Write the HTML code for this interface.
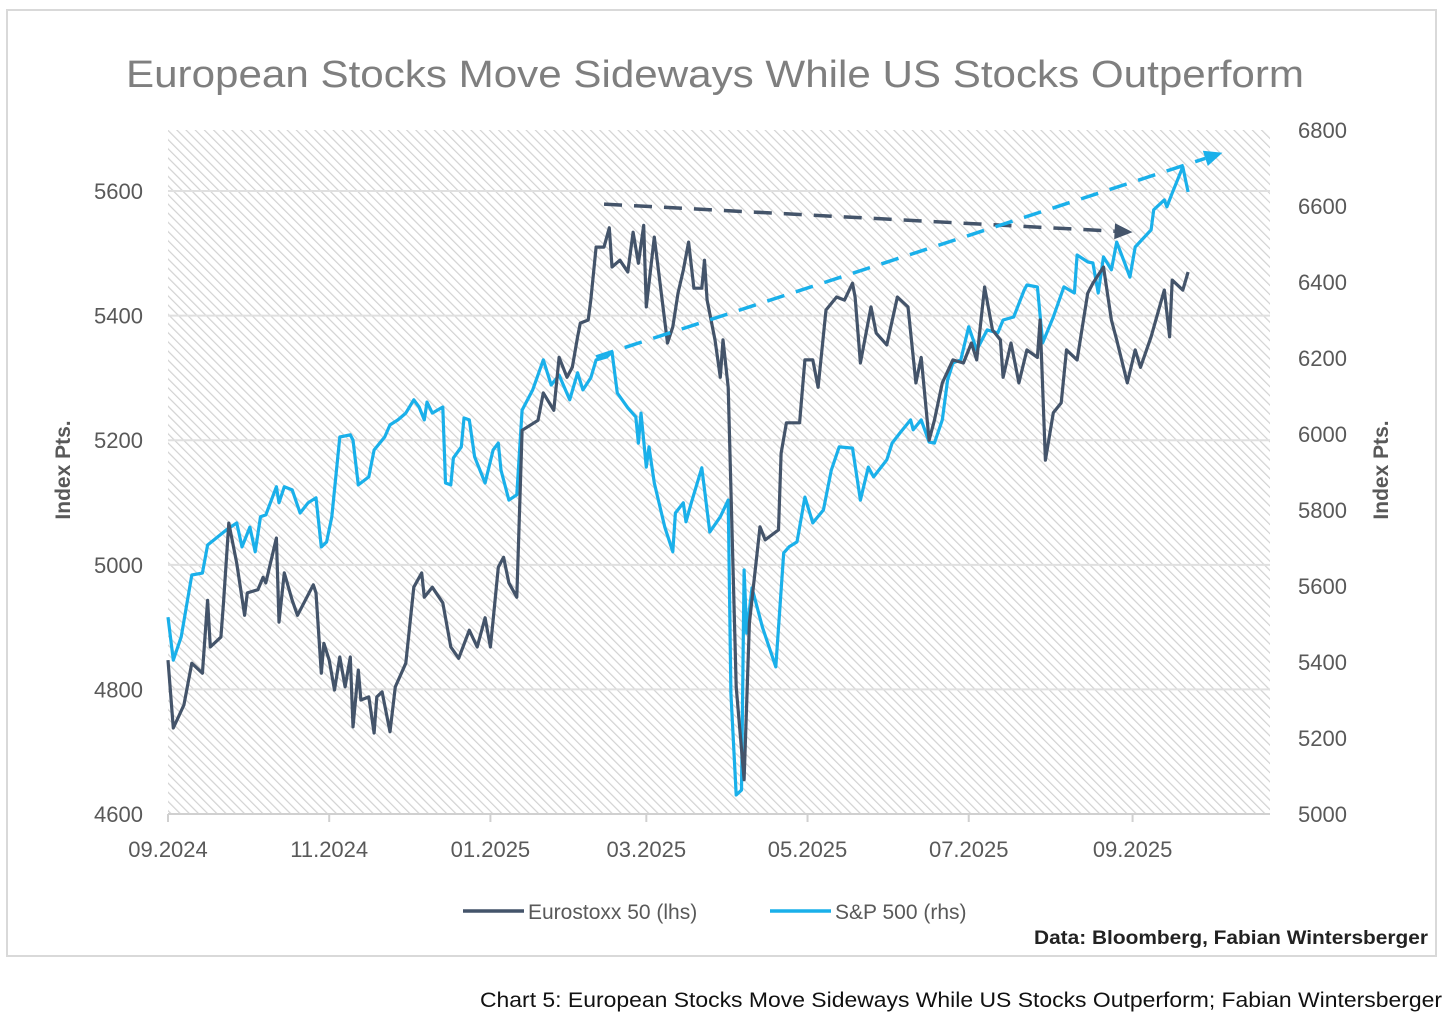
<!DOCTYPE html>
<html><head><meta charset="utf-8"><style>
html,body{margin:0;padding:0;background:#fff;}
svg{display:block;font-family:"Liberation Sans",sans-serif;}
</style></head><body>
<svg id="chart" width="1456" height="1022" viewBox="0 0 1456 1022" xmlns="http://www.w3.org/2000/svg">
<defs>
<pattern id="hatch" patternUnits="userSpaceOnUse" width="6.5" height="6.5" patternTransform="rotate(-45)">
<rect width="6.5" height="6.5" fill="#ffffff"/>
<line x1="0" y1="0" x2="0" y2="6.5" stroke="#d2d2d2" stroke-width="2.4"/>
</pattern>
</defs>
<rect x="7" y="10" width="1429" height="946" fill="#fff" stroke="#d9d9d9" stroke-width="2"/>
<text x="715" y="87" text-anchor="middle" font-size="38" fill="#7f7f7f" textLength="1178" lengthAdjust="spacingAndGlyphs">European Stocks Move Sideways While US Stocks Outperform</text>
<rect x="168" y="130" width="1102" height="684" fill="url(#hatch)"/>
<g id="grid"></g>
<g id="axes"></g>
<g id="series"></g>
<g id="annot"></g>
<text transform="translate(70,470) rotate(-90)" text-anchor="middle" font-size="21" font-weight="bold" fill="#595959">Index Pts.</text>
<text transform="translate(1388,470) rotate(-90)" text-anchor="middle" font-size="21" font-weight="bold" fill="#595959">Index Pts.</text>
<g>
<line x1="463" y1="911" x2="524" y2="911" stroke="#44546a" stroke-width="3.5"/>
<text x="528" y="919" font-size="21" fill="#595959">Eurostoxx 50 (lhs)</text>
<line x1="770" y1="911" x2="831" y2="911" stroke="#1ab0ea" stroke-width="3.5"/>
<text x="835" y="919" font-size="21" fill="#595959">S&amp;P 500 (rhs)</text>
</g>
<text x="1428" y="944" text-anchor="end" font-size="19" fill="#222" font-weight="bold" textLength="394" lengthAdjust="spacingAndGlyphs">Data: Bloomberg, Fabian Wintersberger</text>
<text x="1442" y="1007" text-anchor="end" font-size="21" fill="#111" textLength="962" lengthAdjust="spacingAndGlyphs">Chart 5: European Stocks Move Sideways While US Stocks Outperform; Fabian Wintersberger</text>
</svg>
<script>
const euroDays=[0,2,6,9,13,15,16,20,21,23,26,29,30,34,36,37,41,42,44,47,49,55,56,58,59,61,63,65,67,69,70,72,73,76,78,79,81,84,86,90,93,96,97,100,104,107,110,114,117,120,122,123,125,127,129,132,134,140,142,146,148,151,153,155,156,159,160,162,165,167,168,171,174,176,178,180,181,184,189,191,193,195,197,199,202,203,204,207,209,210,212,215,218,220,224,226,231,232,234,239,241,244,246,249,253,256,259,260,262,266,268,272,276,280,283,285,288,290,293,297,301,304,306,309,312,315,316,319,322,325,329,330,332,335,338,340,344,348,350,354,357,359,363,366,368,372,377,379,380,384,386];
const euroValues=[4847,4738,4775,4842,4826,4943,4868,4884,4939,5067,5003,4919,4955,4960,4980,4971,5043,4908,4987,4943,4919,4968,4955,4826,4874,4847,4799,4852,4804,4852,4740,4831,4783,4788,4730,4788,4796,4732,4804,4842,4964,4987,4948,4964,4939,4868,4850,4895,4868,4915,4868,4911,4996,5012,4971,4948,5216,5232,5276,5248,5333,5301,5317,5366,5388,5393,5425,5510,5510,5541,5478,5489,5470,5534,5484,5545,5414,5526,5356,5382,5436,5473,5518,5444,5444,5489,5425,5361,5301,5361,5285,4804,4655,4907,5061,5040,5056,5179,5228,5228,5329,5329,5285,5409,5430,5425,5452,5430,5324,5414,5372,5353,5430,5414,5292,5333,5200,5232,5292,5329,5324,5356,5329,5446,5377,5361,5301,5356,5292,5345,5333,5393,5168,5244,5260,5345,5329,5436,5452,5478,5393,5361,5292,5345,5317,5366,5441,5366,5457,5441,5470];
const spDays=[0,2,5,9,13,15,22,26,28,31,33,35,37,41,42,44,47,50,53,56,58,60,62,65,69,70,72,76,78,82,84,87,90,93,95,97,98,100,104,105,107,108,111,112,114,116,120,123,125,126,129,132,134,138,142,145,148,152,155,157,160,162,166,168,170,174,177,178,179,181,182,184,188,191,192,195,196,198,202,205,209,212,213,215,217,218,219,221,225,230,233,235,238,241,244,248,251,254,259,262,265,267,272,274,277,281,282,285,288,290,293,295,297,300,303,306,310,314,316,320,324,325,329,331,335,339,343,344,348,350,352,354,357,359,362,364,366,372,373,377,378,380,384,386];
const spValues=[5518,5405,5466,5629,5634,5708,5747,5766,5703,5755,5690,5782,5787,5861,5819,5861,5853,5792,5819,5832,5703,5716,5782,5992,5998,5984,5866,5887,5958,5992,6024,6037,6055,6090,6071,6037,6084,6055,6071,5871,5866,5937,5966,6042,6037,5940,5871,5958,5976,5905,5826,5840,6063,6116,6195,6129,6155,6090,6161,6116,6148,6195,6203,6216,6108,6069,6045,5976,6055,5913,5966,5871,5755,5690,5792,5819,5769,5819,5911,5742,5782,5826,5318,5050,5063,5642,5476,5595,5490,5387,5687,5703,5716,5834,5766,5800,5905,5966,5963,5826,5913,5887,5932,5976,6003,6037,6011,6037,5979,5976,6037,6142,6187,6195,6282,6221,6274,6266,6300,6308,6379,6392,6387,6240,6308,6387,6371,6471,6453,6450,6371,6466,6432,6505,6450,6413,6492,6537,6590,6616,6598,6634,6703,6637];
const xTickLabels=["09.2024","11.2024","01.2025","03.2025","05.2025","07.2025","09.2025"];
const xTickDays=[0,61,122,181,242,303,365];
const leftTicks=[4600,4800,5000,5200,5400,5600];
const rightTicks=[5000,5200,5400,5600,5800,6000,6200,6400,6600,6800];
const euroTrendDays=[165,365];
const euroTrendValues=[5579,5534];
const spTrendDays=[162,399];
const spTrendValues=[6203,6740];

const NS="http://www.w3.org/2000/svg";
const PL=168,PR=1270,PT=130,PB=814;
const X=d=>PL+(d/417)*(PR-PL);
const YL=v=>PB-(v-4600)/(5698-4600)*(PB-PT);
const YR=v=>PB-(v-5000)/(6800-5000)*(PB-PT);
function mk(tag,attrs,parent,txt){const e=document.createElementNS(NS,tag);for(const k in attrs)e.setAttribute(k,attrs[k]);if(txt!==undefined)e.textContent=txt;parent.appendChild(e);return e;}
const grid=document.getElementById('grid'),axes=document.getElementById('axes'),ser=document.getElementById('series'),ann=document.getElementById('annot');
leftTicks.forEach(v=>{
  if(v>4600){const g=mk('line',{x1:PL,x2:PR,y1:YL(v),y2:YL(v),stroke:'#e0e0e0','stroke-width':2},grid);
  
  }
  const t=mk('text',{x:143,y:YL(v)+8,'text-anchor':'end','font-size':22,fill:'#595959'},axes,String(v));
  
  
});
rightTicks.forEach(v=>{
  const t=mk('text',{x:1298,y:YR(v)+8,'font-size':22,fill:'#595959'},axes,String(v));
  
  
});
const ax=mk('line',{x1:PL,x2:PR,y1:PB,y2:PB,stroke:'#d0d0d0','stroke-width':2},axes);


xTickDays.forEach((d,i)=>{
  const tk=mk('line',{x1:X(d),x2:X(d),y1:PB,y2:PB+8,stroke:'#d0d0d0','stroke-width':2},axes);
  
  
  const t=mk('text',{x:X(d),y:PB+43,'text-anchor':'middle','font-size':22,fill:'#595959'},axes,xTickLabels[i]);
  
  
});
function line(days,vals,Y,color,name){
  const p=days.map((d,i)=>(i?'L':'M')+X(d).toFixed(1)+','+Y(vals[i]).toFixed(1)).join(' ');
  const e=mk('path',{d:p,fill:'none',stroke:color,'stroke-width':3.2,'stroke-linejoin':'round'},ser);
  
  
}
line(spDays,spValues,YR,'#1ab0ea','sp500-line');
line(euroDays,euroValues,YL,'#44546a','eurostoxx-line');
function arrow(days,vals,Y,color,name){
  const x1=X(days[0]),y1=Y(vals[0]),x2=X(days[1]),y2=Y(vals[1]);
  const a=Math.atan2(y2-y1,x2-x1),L=18;
  const bx=x2-L*Math.cos(a),by=y2-L*Math.sin(a);
  const e=mk('line',{x1:x1,y1:y1,x2:bx,y2:by,stroke:color,'stroke-width':3.5,'stroke-dasharray':'18 12'},ann);
  
  
  const px=-Math.sin(a)*8,py=Math.cos(a)*8;
  const h=mk('polygon',{points:`${x2},${y2} ${bx+px},${by+py} ${bx-px},${by-py}`,fill:color},ann);
  
  
}
arrow(euroTrendDays,euroTrendValues,YL,'#44546a','eurostoxx-trend-arrow');
arrow(spTrendDays,spTrendValues,YR,'#1ab0ea','sp500-trend-arrow');
</script>
</body></html>
